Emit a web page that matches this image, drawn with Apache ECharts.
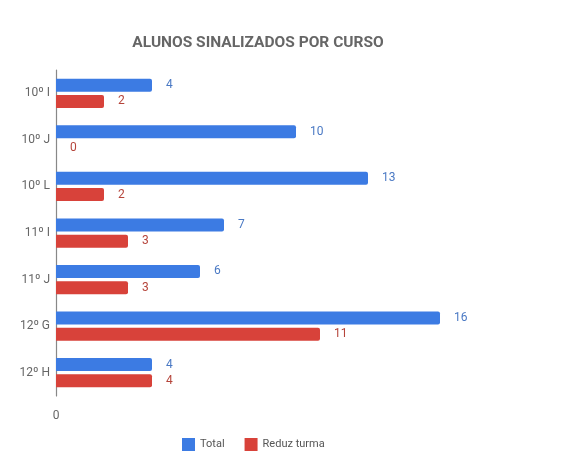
<!DOCTYPE html>
<html><head><meta charset="utf-8">
<script src="https://cdn.jsdelivr.net/npm/echarts@6/dist/echarts.min.js"></script>
<style>html,body{margin:0;padding:0;background:#fff}#c{width:574px;height:466px}</style>
</head><body><div id="c"></div>
<script>
const categories = ['10º I','10º J','10º L','11º I','11º J','12º G','12º H'];
const totalValues = [4,10,13,7,6,16,4];
const reduzValues = [2,0,2,3,3,11,4];
const seriesNames = ['Total','Reduz turma'];

const chart = echarts.init(document.getElementById('c'));
chart.setOption({
  animation:false,
  title:{text:'ALUNOS SINALIZADOS POR CURSO',left:253,top:30,textAlign:'center',
    textStyle:{fontFamily:'Roboto',fontSize:15.5,fontWeight:'bold',color:'#666'}},
  legend:{top:433,left:177,itemWidth:13,itemHeight:13,itemGap:20,icon:'rect',
    textStyle:{fontFamily:'Roboto',fontSize:11,color:'#555'}},
  grid:{left:56,top:70,width:384,height:326},
  xAxis:{type:'value',min:0,max:16,interval:16,
    axisLine:{show:false},axisTick:{show:false},splitLine:{show:false},
    axisLabel:{margin:14,color:'#666',fontFamily:'Roboto',fontSize:12,formatter:v=>v===0?'0':''}},
  yAxis:{type:'category',data:categories,inverse:true,
    axisLine:{lineStyle:{color:'#888',width:1.2}},axisTick:{show:false},
    axisLabel:{margin:6,color:'#666',fontFamily:'Roboto',fontSize:12}},
  series:[
    {name:seriesNames[0],type:'bar',data:totalValues,barWidth:13,barGap:'25%',
      itemStyle:{color:'#3c7be3',borderRadius:[0,2,2,0]},
      label:{show:true,position:'right',distance:14,color:'#4a79c4',fontFamily:'Roboto',fontSize:12}},
    {name:seriesNames[1],type:'bar',data:reduzValues,barWidth:13,
      itemStyle:{color:'#d8423a',borderRadius:[0,2,2,0]},
      label:{show:true,position:'right',distance:14,color:'#b5443a',fontFamily:'Roboto',fontSize:12}}
  ]
});
</script></body></html>
